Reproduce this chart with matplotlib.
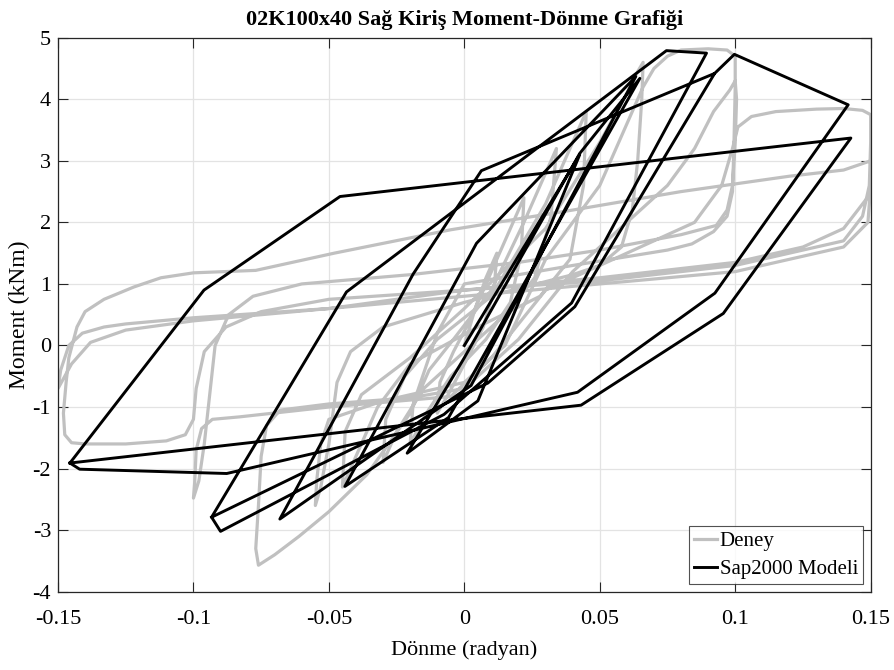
import numpy as np
import matplotlib
matplotlib.use("Agg")
from matplotlib import pyplot as plt

plt.rcParams['font.family'] = ['Liberation Serif', 'DejaVu Serif']

loop1_x = [0, 0.004, 0.008, 0.012, 0.011, 0.007, 0.0, -0.006, -0.010, -0.009, -0.004, 0.002]
loop1_y = [0, 0.6, 1.1, 1.5, 0.9, 0.3, -0.3, -0.8, -1.1, -0.6, -0.1, 0.4]
loop2_x = [0.010, 0.017, 0.022, 0.021, 0.017, 0.008, -0.005, -0.014, -0.020, -0.019, -0.013, -0.004]
loop2_y = [1.2, 1.9, 2.4, 1.5, 0.7, 0.1, -0.5, -1.1, -1.6, -1.0, -0.4, 0.1]
loop3_x = [0.010, 0.022, 0.030, 0.034, 0.032, 0.026, 0.015, 0.0, -0.015, -0.025, -0.030, -0.029, -0.022, -0.010]
loop3_y = [0.9, 2.0, 2.8, 3.2, 2.1, 1.1, 0.5, -0.1, -0.7, -1.4, -1.9, -1.2, -0.5, 0.1]
loop4_x = [0.010, 0.030, 0.040, 0.045, 0.044, 0.039, 0.028, 0.005, -0.020, -0.032, -0.040, -0.045, -0.044,
           -0.038, -0.020]
loop4_y = [0.8, 2.3, 3.3, 3.8, 2.6, 1.4, 0.8, 0.3, -0.3, -1.0, -1.8, -2.3, -1.4,
           -0.8, -0.2]
loop5_x = [0.0, 0.030, 0.050, 0.060, 0.064, 0.066, 0.0655, 0.064, 0.062, 0.058, 0.050, 0.040, 0.0,
           -0.030, -0.042, -0.047, -0.050, -0.053, -0.055, -0.0545, -0.053, -0.050, -0.030, 0.0, 0.015]
loop5_y = [0.6, 1.9, 3.3, 4.1, 4.45, 4.6, 4.0, 3.0, 2.2, 1.6, 1.3, 1.15, 0.7,
           0.3, -0.1, -0.6, -1.6, -2.3, -2.6, -2.2, -1.6, -1.2, -0.9, -0.6, 0.0]
loop6_x = [0.030, 0.050, 0.060, 0.066, 0.070, 0.075, 0.080, 0.090, 0.097, 0.100, 0.100, 0.0995, 0.099,
           0.097, 0.092, 0.084, 0.075, 0.040, 0.0, -0.010, -0.020, -0.036, -0.050, -0.061, -0.070,
           -0.076, -0.077, -0.076, -0.075, -0.073, -0.068, -0.050, -0.020, 0.0, 0.020]
loop6_y = [1.4, 2.6, 3.6, 4.2, 4.5, 4.7, 4.8, 4.82, 4.8, 4.7, 4.2, 3.2, 2.5,
           2.1, 1.85, 1.65, 1.55, 1.3, 1.0, 0.2, -1.1, -2.1, -2.7, -3.1, -3.4,
           -3.57, -3.3, -2.6, -1.8, -1.3, -1.05, -0.95, -0.85, -0.7, 0.1]
loop7_x = [0.040, 0.060, 0.075, 0.085, 0.092, 0.098, 0.100, 0.1005, 0.100, 0.099, 0.097, 0.093,
           0.080, 0.050, 0.020, -0.020, -0.060, -0.078, -0.087, -0.092, -0.094, -0.096, -0.098,
           -0.100, -0.0995, -0.099, -0.097, -0.093, -0.083, -0.050, -0.005, 0.010]
loop7_y = [1.2, 2.0, 2.6, 3.2, 3.8, 4.15, 4.3, 4.0, 3.3, 2.6, 2.2, 1.95,
           1.8, 1.55, 1.35, 1.15, 1.0, 0.8, 0.5, 0.0, -0.8, -1.6, -2.2,
           -2.48, -2.2, -1.7, -1.35, -1.2, -1.16, -1.0, -0.83, -0.2]
loop8_x = [0.030, 0.060, 0.085, 0.095, 0.099, 0.101, 0.106, 0.115, 0.130, 0.140, 0.147, 0.150, 0.150,
           0.1495, 0.147, 0.140, 0.100, 0.050, 0.0, -0.050, -0.075, -0.088, -0.096, -0.099, -0.100,
           -0.103, -0.110, -0.125, -0.140, -0.145, -0.1475, -0.148, -0.147, -0.146, -0.143, -0.140,
           -0.133, -0.122, -0.112, -0.100, -0.077, -0.048, -0.005, 0.040, 0.080, 0.120, 0.140, 0.150]
loop8_y = [0.9, 1.5, 2.0, 2.6, 3.2, 3.55, 3.72, 3.8, 3.84, 3.85, 3.82, 3.75, 3.3,
           2.6, 2.1, 1.7, 1.3, 1.05, 0.9, 0.75, 0.55, 0.3, -0.1, -0.7, -1.2,
           -1.45, -1.55, -1.6, -1.6, -1.58, -1.45, -1.1, -0.6, -0.2, 0.3, 0.55,
           0.75, 0.95, 1.1, 1.18, 1.22, 1.5, 1.88, 2.2, 2.5, 2.75, 2.85, 3.0]
loop9_x = [0.150, 0.149, 0.140, 0.100, 0.050, 0.0, -0.050, -0.100, -0.125, -0.138, -0.145, -0.150,
           -0.149, -0.146, -0.141, -0.133, -0.125, -0.100, -0.050, 0.0, 0.050, 0.100, 0.125, 0.140, 0.150]
loop9_y = [2.6, 2.0, 1.6, 1.2, 1.0, 0.8, 0.6, 0.4, 0.25, 0.05, -0.3, -0.7,
           -0.4, 0.0, 0.2, 0.3, 0.35, 0.45, 0.6, 0.9, 1.1, 1.35, 1.6, 1.9, 2.47]

deney_x = loop1_x + loop2_x + loop3_x + loop4_x + loop5_x + loop6_x + loop7_x + loop8_x + loop9_x
deney_y = loop1_y + loop2_y + loop3_y + loop4_y + loop5_y + loop6_y + loop7_y + loop8_y + loop9_y

# sap2000 model - corner points, nan splits the two pieces
sap_x = [0, 0.0426, 0.005, -0.0211, 0.0, 0.0426, 0.0648, -0.0058, -0.0441, 0.0045, 0.0633, 0.0025,
         -0.0681, -0.0189, 0.0063, 0.0924, 0.0408, 0.0087, -0.0933, -0.0435, 0.0746, 0.0894, 0.0396,
         -0.0075, -0.090, -0.0933, np.nan,
         0.0924, 0.0997, 0.1417, 0.0925, 0.0418, -0.0877, -0.142, -0.1456, -0.0961, -0.0459, 0.1427,
         0.0956, 0.0431, -0.1456]
sap_y = [0, 3.10, -0.9, -1.75, -0.2, 3.12, 4.34, -1.17, -2.29, 1.66, 4.37, -0.65,
         -2.82, 1.16, 2.84, 4.42, 0.63, -0.61, -2.79, 0.87, 4.79, 4.75, 0.69,
         -1.12, -3.02, -2.79, np.nan,
         4.42, 4.73, 3.91, 0.85, -0.76, -2.08, -2.01, -1.91, 0.90, 2.42, 3.37,
         0.52, -0.97, -1.91]

fig = plt.figure(figsize=(8.95, 6.70), dpi=100)
ax = fig.add_axes([0.0648, 0.1169, 0.908, 0.8268])

ax.plot(deney_x, deney_y, color='#c0c0c0', lw=2.3, label='Deney')
ax.plot(sap_x, sap_y, color='black', lw=2.1, label='Sap2000 Modeli')

ax.set_xlim(-0.15, 0.15)
ax.set_ylim(-4, 5)
ax.set_xticks([-0.15, -0.1, -0.05, 0, 0.05, 0.1, 0.15])
ax.set_xticklabels(['-0.15', '-0.1', '-0.05', '0', '0.05', '0.1', '0.15'])
ax.set_yticks(range(-4, 6))
ax.set_yticklabels([str(v) for v in range(-4, 6)])
ax.grid(True, color='#e3e3e3', lw=0.9)
ax.set_axisbelow(True)
ax.tick_params(direction='in', top=True, right=True, labelsize=16, length=7, color='#262626')
ax.tick_params(axis='x', pad=13)
ax.tick_params(axis='y', pad=5)
for s in ax.spines.values():
    s.set_color('#262626')
    s.set_linewidth(0.9)

ax.set_title('02K100x40 Sağ Kiriş Moment-Dönme Grafiği', fontsize=16, fontweight='bold', pad=9)
ax.set_xlabel('Dönme (radyan)', fontsize=16, labelpad=8)
ax.set_ylabel('Moment (kNm)', fontsize=17, labelpad=2)

leg = ax.legend(loc='lower right', fontsize=15, frameon=True, fancybox=False, borderpad=0.25,
                handlelength=1.1, handletextpad=0.15, labelspacing=0.4, borderaxespad=0.35)
leg.get_frame().set_edgecolor('#262626')
leg.get_frame().set_linewidth(0.8)

fig.savefig('out.png', dpi=100)
